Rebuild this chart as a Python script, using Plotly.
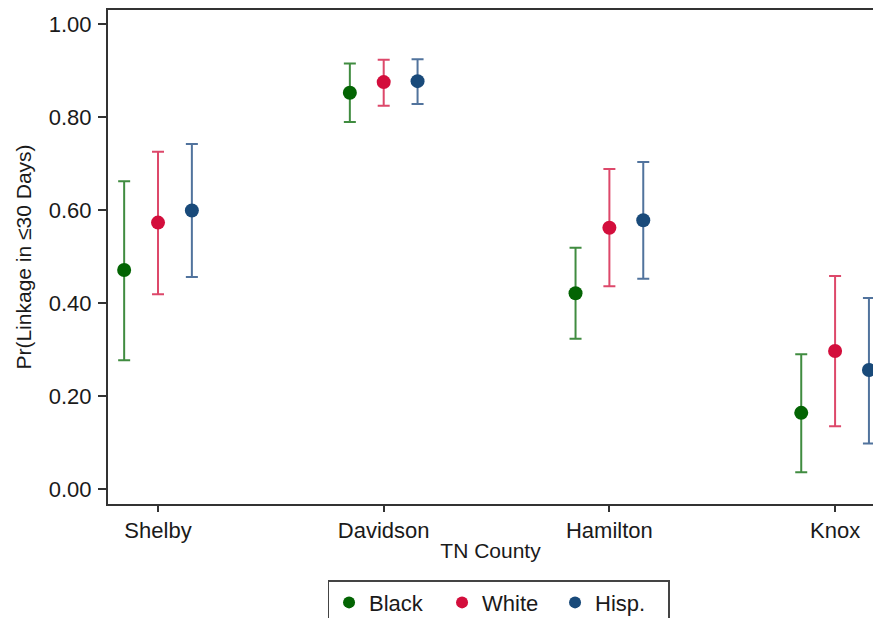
import plotly.graph_objects as go

counties = ["Shelby", "Davidson", "Hamilton", "Knox"]
groups = ["Black", "White", "Hisp."]

black_est = [0.471, 0.852, 0.421, 0.164]
black_hi = [0.662, 0.915, 0.519, 0.290]
black_lo = [0.277, 0.789, 0.323, 0.036]

white_est = [0.573, 0.875, 0.562, 0.297]
white_hi = [0.725, 0.923, 0.688, 0.458]
white_lo = [0.419, 0.824, 0.436, 0.135]

hisp_est = [0.599, 0.877, 0.578, 0.256]
hisp_hi = [0.742, 0.924, 0.703, 0.411]
hisp_lo = [0.456, 0.828, 0.452, 0.098]

y_ticks = [0.0, 0.2, 0.4, 0.6, 0.8, 1.0]

series = [
    ("Black", black_est, black_lo, black_hi, "#036403", "rgba(30,120,30,0.85)", -0.15),
    ("White", white_est, white_lo, white_hi, "#D30E3C", "rgba(215,40,80,0.85)", 0.0),
    ("Hisp.", hisp_est, hisp_lo, hisp_hi, "#194A7A", "rgba(50,90,140,0.85)", 0.15),
]

fig = go.Figure()
for name, est, lo, hi, col, ecol, off in series:
    xs = [i + off for i in range(len(counties))]
    fig.add_trace(go.Scatter(
        x=xs, y=est, mode="markers", name=name,
        marker=dict(color=col, size=14),
        error_y=dict(type="data", symmetric=False,
                     array=[h - e for h, e in zip(hi, est)],
                     arrayminus=[e - l for e, l in zip(est, lo)],
                     color=ecol, thickness=2, width=6),
        cliponaxis=False,
    ))

fig.update_layout(
    width=873, height=618,
    margin=dict(l=108, r=0, t=10, b=114, autoexpand=False),
    paper_bgcolor="white", plot_bgcolor="white",
    font=dict(family="Liberation Sans, Arial, Helvetica, sans-serif", size=22, color="#1a1a1a"),
    showlegend=True,
    legend=dict(orientation="h", x=0.287, xanchor="left", y=-0.154, yanchor="top",
                bordercolor="#444", borderwidth=1.5, font=dict(size=22),
                entrywidth=68, itemsizing="constant"),
)
fig.update_xaxes(
    range=[-0.2216, 3.168], tickvals=list(range(len(counties))), ticktext=counties,
    showline=True, linecolor="#333", linewidth=2, mirror=True,
    ticks="outside", ticklen=6, tickwidth=1.5, tickcolor="#333",
    showgrid=False, zeroline=False,
    title=dict(text="TN County", font=dict(size=21), standoff=1),
)
fig.update_yaxes(
    range=[-0.032, 1.030], tickvals=y_ticks, ticktext=[f"{v:.2f}" for v in y_ticks],
    showline=True, linecolor="#333", linewidth=2,
    ticks="outside", ticklen=8, tickwidth=1.5, tickcolor="#333",
    ticklabelstandoff=2,
    showgrid=False, zeroline=False,
    title=dict(text="Pr(Linkage in ≤30 Days)", font=dict(size=21), standoff=11),
)

fig.write_html(
    "out.html",
    config={"displayModeBar": False},
    post_script="document.body.style.margin='0';document.body.style.overflow='hidden';",
)
